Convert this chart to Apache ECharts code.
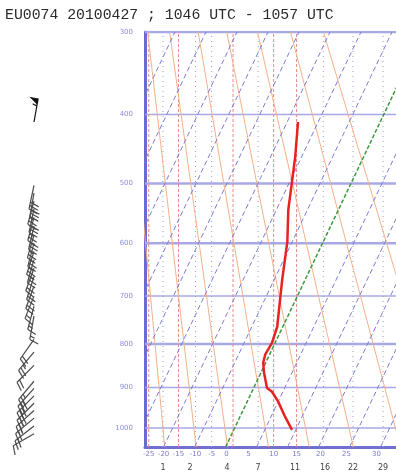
<!DOCTYPE html>
<html><head><meta charset="utf-8">
<script src="https://cdn.jsdelivr.net/npm/echarts@6/dist/echarts.min.js"></script>
<style>html,body{margin:0;padding:0;background:#fff}#c{width:396px;height:474px}</style>
</head><body><div id="c"></div>
<script>
// ---- data ----
const titleText = 'EU0074 20100427 ; 1046 UTC - 1057 UTC';
const pressureLevels = [300, 400, 500, 600, 700, 800, 900, 1000];
const tempPressure = [410, 459, 494, 542, 597, 668, 763, 798, 824, 842, 865, 901, 910, 934, 972, 1005];
const tempValues   = [-26.5, -22.1, -19.5, -16.2, -11.6, -7.4, -1.8, -1.0, -1.4, -0.8, 1.0, 4.3, 6.5, 10.0, 14.6, 18.8];
const isothermValues = [-90, -80, -70, -60, -50, -40, -30, -20, -10, 10, 20, 30, 40, 50];
const freezingLevel = [0];
const dryAdiabatThetas = [250, 260, 270, 283, 296, 310, 325, 340];
const row1Labels = ['-25', '-20', '-15', '-10', '-5', '0', '5', '10', '15', '20', '25', '30'];
const row1At = [-24.8, -20, -15.2, -9.7, -4.5, 0.3, 7.4, 15.5, 22.9, 30.6, 39, 48.7];
const row2Labels = ['1', '2', '4', '7', '11', '16', '22', '29'];
const row2At = [-20.2, -11.5, 0.5, 10.5, 22.4, 32.1, 41.1, 50.8];
const redVerticals = [-24.8, -15.2, 2.4, 15.5, 22.9];
const dotVerticals = [-20.2, -9.7, -4.5, 10.5, 31.5, 41.1, 50.8];
const windPressure = [410, 503, 515, 528, 541, 555, 570, 585, 600, 615, 630, 646, 662, 680, 700, 720, 740, 790, 818, 848, 885, 902, 920, 938, 956, 975, 995, 1015];
const windDir      = [10, 192, 190, 195, 192, 195, 193, 196, 195, 198, 196, 200, 198, 200, 202, 195, 190, 215, 220, 225, 220, 222, 225, 225, 228, 230, 232, 240];
const windSpeed    = [55, 30, 30, 25, 30, 25, 30, 25, 25, 25, 25, 20, 20, 20, 15, 15, 15, 20, 25, 20, 25, 30, 30, 30, 25, 25, 20, 10];

// ---- diagram transform ----
const KAPPA = 0.2857;
const SKEW = 29;
const P_TOP = 300, P_BOT = 1050;
const Y = p => Math.pow(p, KAPPA);
const YBOT = Y(P_BOT);
const skewX = (t, p) => t + SKEW * (YBOT - Y(p));
const X_MIN = -26, X_MAX = 60;

const series = [];
pressureLevels.forEach(p => {
  series.push({type: 'line', silent: true, symbol: 'none',
    data: [[X_MIN, Y(p)], [X_MAX, Y(p)]],
    lineStyle: {color: '#a8a8e6', width: (p === 500 || p === 600 || p === 800 || p === 300) ? 2.5 : 1.5}});
});
redVerticals.forEach(v => series.push({type: 'line', silent: true, symbol: 'none',
  data: [[v, Y(P_BOT)], [v, Y(P_TOP)]], lineStyle: {color: '#e88a8a', width: 1, type: [3, 2]}}));
dotVerticals.forEach(v => series.push({type: 'line', silent: true, symbol: 'none',
  data: [[v, Y(P_BOT)], [v, Y(P_TOP)]], lineStyle: {color: '#9a9ad6', width: 1, type: [1, 4]}}));
dryAdiabatThetas.forEach(th => {
  const pts = [];
  for (let p = P_BOT; p >= P_TOP; p -= 50) {
    const t = th * Math.pow(p / 1000, KAPPA) - 273.15;
    pts.push([skewX(t, p), Y(p)]);
  }
  series.push({type: 'line', silent: true, symbol: 'none', data: pts,
    lineStyle: {color: '#f4b088', width: 1}});
});
isothermValues.forEach(t => series.push({type: 'line', silent: true, symbol: 'none',
  data: [[skewX(t, P_BOT), Y(P_BOT)], [skewX(t, P_TOP), Y(P_TOP)]],
  lineStyle: {color: '#7c7cd4', width: 1, type: [5, 3]}}));
freezingLevel.forEach(t => series.push({type: 'line', silent: true, symbol: 'none',
  data: [[skewX(t, P_BOT), Y(P_BOT)], [skewX(t, P_TOP), Y(P_TOP)]],
  lineStyle: {color: '#3c9a3c', width: 1.5, type: [4, 2]}}));
series.push({type: 'line', symbol: 'none', z: 10,
  data: tempPressure.map((p, i) => [skewX(tempValues[i], p), Y(p)]),
  lineStyle: {color: '#e62222', width: 2.5}});
series.push({type: 'custom', xAxisIndex: 2, yAxisIndex: 1, clip: false,
  data: windPressure.map((p, i) => [0, Y(p), windDir[i], windSpeed[i]]),
  renderItem: function (params, api) {
    const pt = api.coord([api.value(0), api.value(1)]);
    const d = api.value(2) * Math.PI / 180;
    const spd = api.value(3);
    const L = 24, sp = 3.5, fl = 9;
    const u = [Math.sin(d), -Math.cos(d)];
    const r = [u[1], -u[0]];
    const end = [pt[0] + u[0] * L, pt[1] + u[1] * L];
    const col = spd >= 50 ? '#111' : '#4a4a4a';
    const ch = [{type: 'line', shape: {x1: pt[0], y1: pt[1], x2: end[0], y2: end[1]},
      style: {stroke: col, lineWidth: 1.2}}];
    let s = Math.round(spd / 5) * 5, pos = 0;
    while (s >= 50) {
      const a = [end[0] - u[0] * pos, end[1] - u[1] * pos];
      const b = [a[0] - u[0] * sp * 1.8, a[1] - u[1] * sp * 1.8];
      const c = [a[0] + r[0] * fl, a[1] + r[1] * fl];
      ch.push({type: 'polygon', shape: {points: [a, c, b]}, style: {fill: '#111'}});
      pos += sp * 2.2; s -= 50;
    }
    while (s >= 10) {
      const a = [end[0] - u[0] * pos, end[1] - u[1] * pos];
      ch.push({type: 'line', shape: {x1: a[0], y1: a[1], x2: a[0] + r[0] * fl + u[0] * 3, y2: a[1] + r[1] * fl + u[1] * 3},
        style: {stroke: col, lineWidth: 1.2}});
      pos += sp; s -= 10;
    }
    if (s >= 5) {
      if (pos === 0) pos = sp;
      const a = [end[0] - u[0] * pos, end[1] - u[1] * pos];
      ch.push({type: 'line', shape: {x1: a[0], y1: a[1], x2: a[0] + r[0] * fl / 2 + u[0] * 1.5, y2: a[1] + r[1] * fl / 2 + u[1] * 1.5},
        style: {stroke: col, lineWidth: 1.2}});
    }
    return {type: 'group', children: ch};
  }});

const chart = echarts.init(document.getElementById('c'), null, {renderer: 'canvas'});
const nearest = (arr, v) => { let bi = 0; arr.forEach((a, i) => { if (Math.abs(a - v) < Math.abs(arr[bi] - v)) bi = i; }); return bi; };
chart.setOption({
  animation: false,
  backgroundColor: '#fff',
  title: {text: titleText, left: 5, top: 8, padding: 0, textStyle: {fontFamily: 'Liberation Mono', fontSize: 14.8, fontWeight: 'normal', color: '#2a2a2a'}},
  grid: [
    {left: 145, top: 32, width: (X_MAX - X_MIN) * 3.1, height: 415, outerBoundsMode: 'none', containLabel: false},
    {left: 0, top: 32, width: 68, height: 415, outerBoundsMode: 'none', containLabel: false}
  ],
  xAxis: [
    {type: 'value', gridIndex: 0, min: X_MIN, max: X_MAX, splitLine: {show: false},
      axisLine: {onZero: false, lineStyle: {color: '#7070d0', width: 3}}, axisTick: {show: false},
      axisLabel: {customValues: row1At, formatter: v => row1Labels[nearest(row1At, v)], fontSize: 7, color: '#7a7ad0', margin: 4, fontFamily: 'DejaVu Sans'}},
    {type: 'value', gridIndex: 0, min: X_MIN, max: X_MAX, position: 'bottom', offset: 13, splitLine: {show: false},
      axisLine: {show: false, onZero: false}, axisTick: {show: false},
      axisLabel: {customValues: row2At, formatter: v => row2Labels[nearest(row2At, v)], fontSize: 8, color: '#444', margin: 4, fontFamily: 'DejaVu Sans'}},
    {type: 'value', gridIndex: 1, min: -1, max: 1, show: false}
  ],
  yAxis: [
    {type: 'value', gridIndex: 0, inverse: true, min: Y(P_TOP), max: Y(P_BOT), splitLine: {show: false},
      axisLine: {show: true, onZero: false, lineStyle: {color: '#6a6ad0', width: 3}}, axisTick: {show: false},
      axisLabel: {customValues: pressureLevels.map(Y), formatter: v => String(pressureLevels[nearest(pressureLevels.map(Y), v)]), fontSize: 7, color: '#8c8ce0', margin: 12, fontFamily: 'DejaVu Sans'}},
    {type: 'value', gridIndex: 1, inverse: true, min: Y(P_TOP), max: Y(P_BOT), show: false}
  ],
  series: series
});
</script></body></html>
